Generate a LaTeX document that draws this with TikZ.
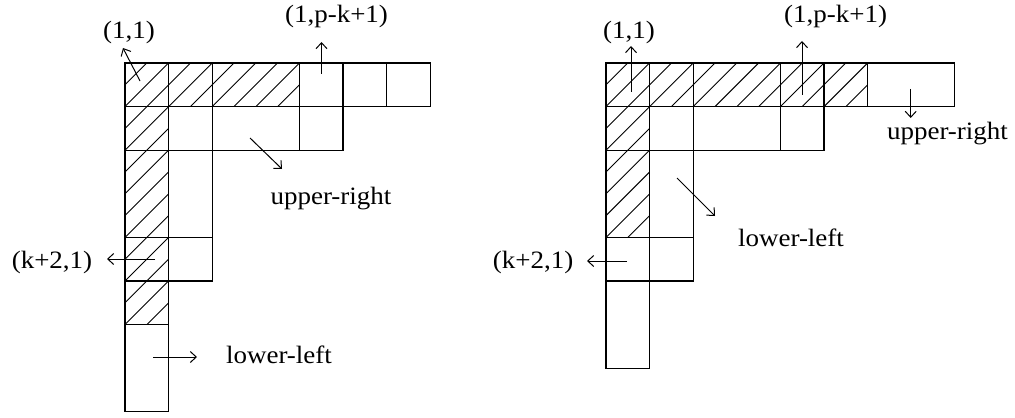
\documentclass[tikz,border=0pt]{standalone}
\usepackage{fontspec}
\setmainfont[FakeStretch=1.08]{Liberation Serif}
\usetikzlibrary{arrows.meta}

\tikzset{
  cellbox/.style={draw, line width=0.55pt},
  hatchline/.style={line width=0.45pt},
  ptr/.style={-{Straight Barb[length=3pt,width=5.5pt]}, line width=0.5pt},
  lbl/.style={inner sep=0pt, font=\fontsize{12.5}{14}\selectfont},
}

\begin{document}
\begin{tikzpicture}[x=0.5pt, y=-0.5pt]
\useasboundingbox (0,0) rectangle (1015,417);

% --- Left diagram: hatched L, then the cells ---
\begin{scope}[shift={(125,63)}, x=21.8pt, y=-21.8pt]
  \begin{scope}
    \clip (0,0) -- (4,0) -- (4,1) -- (1,1) -- (1,6) -- (0,6) -- cycle;
    \foreach \k in {1,...,14}
      \draw[hatchline] (\k/2-8,8) -- (\k/2,0);
  \end{scope}
  \foreach \xa/\ya/\xb/\yb in {0/0/1/1, 1/0/2/1, 2/0/4/1, 4/0/5/1, 5/0/6/1, 6/0/7/1,
      0/1/1/2, 1/1/2/2, 2/1/4/2, 4/1/5/2,
      0/2/1/4, 0/4/1/5, 0/5/1/6, 0/6/1/8,
      1/2/2/4, 1/4/2/5}
    \draw[cellbox] (\xa,\ya) rectangle (\xb,\yb);
\end{scope}

% left labels
\node[lbl] (one-left) at (129,32) {(1,1)};
\node[lbl] (top-left) at (336.5,16) {(1,p-k+1)};
\node[lbl] (ur-left) at (331,199) {upper-right};
\node[lbl] (k-left) at (52,262) {(k+2,1)};
\node[lbl] (ll-left) at (279,355) {lower-left};

% left pointers
\coordinate (one-left-a) at (140,81);  \coordinate (one-left-b) at (123,48);
\coordinate (top-left-a) at (321.5,74); \coordinate (top-left-b) at (321.5,42);
\coordinate (ur-left-a) at (250,138);  \coordinate (ur-left-b) at (282,169);
\coordinate (k-left-a) at (155,259);   \coordinate (k-left-b) at (107,259);
\coordinate (ll-left-a) at (153,357);  \coordinate (ll-left-b) at (197,357);
\draw[ptr] (one-left-a) -- (one-left-b);
\draw[ptr] (top-left-a) -- (top-left-b);
\draw[ptr] (ur-left-a) -- (ur-left-b);
\draw[ptr] (k-left-a) -- (k-left-b);
\draw[ptr] (ll-left-a) -- (ll-left-b);

% --- Right diagram: hatched L, then the cells ---
\begin{scope}[shift={(606,63)}, x=21.8pt, y=-21.8pt]
  \begin{scope}
    \clip (0,0) -- (6,0) -- (6,1) -- (1,1) -- (1,4) -- (0,4) -- cycle;
    \foreach \k in {1,...,14}
      \draw[hatchline] (\k/2-8,8) -- (\k/2,0);
  \end{scope}
  \foreach \xa/\ya/\xb/\yb in {0/0/1/1, 1/0/2/1, 2/0/4/1, 4/0/5/1, 5/0/6/1, 6/0/8/1,
      0/1/1/2, 1/1/2/2, 2/1/4/2, 4/1/5/2,
      0/2/1/4, 0/4/1/5, 0/5/1/7,
      1/2/2/4, 1/4/2/5}
    \draw[cellbox] (\xa,\ya) rectangle (\xb,\yb);
\end{scope}

% right labels
\node[lbl] (one-right) at (629,32) {(1,1)};
\node[lbl] (top-right) at (835.5,16) {(1,p-k+1)};
\node[lbl] (ur-right) at (947.5,134) {upper-right};
\node[lbl] (ll-right) at (791,238) {lower-left};
\node[lbl] (k-right) at (533,262) {(k+2,1)};

% right pointers
\coordinate (one-right-a) at (631,92);  \coordinate (one-right-b) at (631,46);
\coordinate (top-right-a) at (802,95);  \coordinate (top-right-b) at (802,41);
\coordinate (ur-right-a) at (910.7,89); \coordinate (ur-right-b) at (910.7,118);
\coordinate (ll-right-a) at (677,178);  \coordinate (ll-right-b) at (715,216);
\coordinate (k-right-a) at (627,261);   \coordinate (k-right-b) at (587,261);
\draw[ptr] (one-right-a) -- (one-right-b);
\draw[ptr] (top-right-a) -- (top-right-b);
\draw[ptr] (ur-right-a) -- (ur-right-b);
\draw[ptr] (ll-right-a) -- (ll-right-b);
\draw[ptr] (k-right-a) -- (k-right-b);

\end{tikzpicture}
\end{document}
